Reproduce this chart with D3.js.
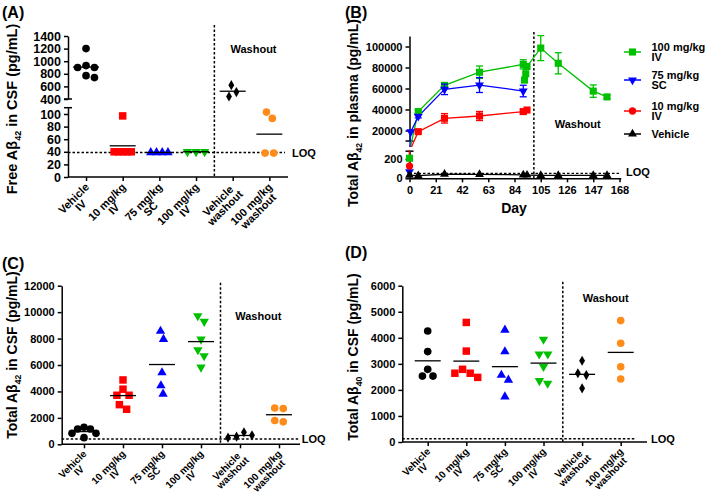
<!DOCTYPE html>
<html><head><meta charset="utf-8">
<script src="https://cdn.jsdelivr.net/npm/d3@7"></script>
<style>
body{margin:0;background:#fff}
text{font-family:"Liberation Sans",Arial,sans-serif;font-weight:bold;fill:#000}
</style></head><body>
<svg id="c" width="707" height="495" xmlns="http://www.w3.org/2000/svg"></svg>
<script>
// ================= DATA =================
const groups = ["Vehicle|IV","10 mg/kg|IV","75 mg/kg|SC","100 mg/kg|IV","Vehicle|washout","100 mg/kg|washout"];

// Panel A: Free Aβ42 in CSF (pg/mL)
const freeA42_vehicleIV   = [900, 900, 930, 1200, 740, 770];
const freeA42_10IV        = [97, 40, 40, 40, 40, 40];
const freeA42_75SC        = [39, 39, 39, 39];
const freeA42_100IV       = [40, 40, 40];
const freeA42_vehicleWash = [620, 440, 510];
const freeA42_100Wash     = [103, 93, 38, 38];
const ticksA_upper = [400, 600, 800, 1000, 1200, 1400];
const ticksA_lower = [0, 20, 40, 60, 80, 100];
const loqA = 39;

// Panel B: Total Aβ42 in plasma (pg/mL) over days
const days100 = [0, 7, 28, 56, 91, 92, 93, 94, 105, 119, 147, 158];
const plasma100 = [207, 38000, 63000, 75500, 83000, 68000, 74000, 81000, 98500, 84000, 57500, 52000];
const plasma100Err = [0, 1500, 2400, 5900, 4400, 0, 0, 0, 11900, 10100, 5900, 2000];
const days75 = [0, 1, 7, 28, 56, 91];
const plasma75 = [68, 18700, 33500, 59200, 63300, 57600];
const plasma75Err = [0, 0, 1500, 5000, 7100, 5500];
const days10 = [0, 7, 28, 56, 91, 94];
const plasma10 = [127, 18900, 31600, 33800, 38000, 39500];
const plasma10Err = [0, 1000, 4500, 4300, 2000, 0];
const daysVeh = [0, 7, 28, 56, 91, 94, 105, 119, 147, 158];
const plasmaVeh = [32, 28, 42, 40, 36, 34, 30, 30, 30, 30];
const ticksB_upper = [20000, 40000, 60000, 80000, 100000];
const ticksB_lower = [0, 200];
const ticksB_days = [0, 21, 42, 63, 84, 105, 126, 147, 168];
const legendB = ["100 mg/kg|IV", "75 mg/kg|SC", "10 mg/kg|IV", "Vehicle"];
const loqB = 50;

// Panel C: Total Aβ42 in CSF (pg/mL)
const totA42_vehicleIV   = [1290, 1160, 1160, 830, 830, 500];
const totA42_10IV        = [4870, 4170, 3710, 3710, 3000, 2650];
const totA42_75SC        = [8560, 7950, 5420, 4440, 3810];
const totA42_100IV       = [9720, 9290, 7950, 7140, 6690, 5830];
const totA42_vehicleWash = [680, 500, 580, 910];
const totA42_100Wash     = [2750, 2700, 1700, 1800];
const ticksC = [0, 2000, 4000, 6000, 8000, 10000, 12000];
const loqC = 400;

// Panel D: Total Aβ40 in CSF (pg/mL)
const totA40_vehicleIV   = [4260, 3470, 2790, 2530, 2530];
const totA40_10IV        = [4590, 3490, 2640, 2480, 2640, 2790];
const totA40_75SC        = [4300, 3470, 2570, 2380, 1740];
const totA40_100IV       = [3940, 3370, 3370, 2890, 2250, 2350];
const totA40_vehicleWash = [3120, 2640, 2570, 2060];
const totA40_100Wash     = [4660, 3790, 2890, 2420];
const ticksD = [0, 1000, 2000, 3000, 4000, 5000, 6000];
const loqD = 125;

// ================= STYLE =================
const RED = "#ff0000", BLUE = "#0000ff", GREEN = "#00c000", ORANGE = "#ff8c1a", BLACK = "#000";
const groupStyle = [
  {c: BLACK, s: "circle"}, {c: RED, s: "square"}, {c: BLUE, s: "tri"},
  {c: GREEN, s: "tridown"}, {c: BLACK, s: "diamond"}, {c: ORANGE, s: "circle"}
];
const FS = 11;
const svg = d3.select("#c");
svg.append("rect").attr("width", 707).attr("height", 495).attr("fill", "#fff");

function symPath(s, k) {
  k = k || 1;
  if (s === "circle") return d3.symbol(d3.symbolCircle, 46 * k)();
  if (s === "square") return d3.symbol(d3.symbolSquare, 56 * k)();
  if (s === "tri" || s === "tridown") return d3.symbol(d3.symbolTriangle, 38 * k)();
  if (s === "diamond") return d3.symbol(d3.symbolDiamond, 30 * k)();
}
function drawSym(g, s, color, x, y, k) {
  g.append("path").attr("d", symPath(s, k))
    .attr("transform", `translate(${x},${y})` + (s === "tridown" ? " rotate(180)" : ""))
    .attr("fill", color);
}

// beeswarm-like horizontal spread
function swarm(vals, yfn, d, maxHalf) {
  const pts = vals.map((v, i) => ({v, i, y: yfn(v), x: 0})).sort((a, b) => a.y - b.y);
  const placed = [];
  for (const p of pts) {
    const c = [0];
    for (const q of placed) {
      const dy = Math.abs(p.y - q.y);
      if (dy < d) { const dx = Math.sqrt(d * d - dy * dy); c.push(q.x - dx, q.x + dx); }
    }
    c.sort((a, b) => Math.abs(a) - Math.abs(b) || b - a);
    for (const cx of c) {
      if (placed.every(q => (q.x - cx) ** 2 + (q.y - p.y) ** 2 >= d * d - 0.01)) { p.x = cx; break; }
    }
    placed.push(p);
  }
  const comp = placed.map((_, i) => i);
  const find = i => comp[i] === i ? i : (comp[i] = find(comp[i]));
  for (let i = 0; i < placed.length; i++) for (let j = i + 1; j < placed.length; j++)
    if (Math.abs(placed[i].y - placed[j].y) < d) comp[find(i)] = find(j);
  const groupsC = d3.group(placed.map((p, i) => [find(i), p]), e => e[0]);
  for (const [, arr] of groupsC) {
    const xs = arr.map(e => e[1].x);
    const mid = (d3.min(xs) + d3.max(xs)) / 2;
    arr.forEach(e => e[1].x -= mid);
  }
  const m = d3.max(placed, p => Math.abs(p.x));
  if (m > maxHalf) placed.forEach(p => p.x *= maxHalf / m);
  return placed;
}

function styleAxis(g, fs) {
  g.selectAll("path.domain").attr("stroke", "#000").attr("stroke-width", 1.5);
  g.selectAll(".tick line").attr("stroke", "#000").attr("stroke-width", 1.5);
  g.selectAll(".tick text").attr("font-size", fs || FS).attr("font-weight", "bold")
    .attr("font-family", '"Liberation Sans",Arial,sans-serif').attr("fill", "#000");
}
function yAxis(scale, ticks, x, fs) {
  const g = svg.append("g").attr("transform", `translate(${x},0)`)
    .call(d3.axisLeft(scale).tickValues(ticks).tickSize(4).tickSizeOuter(0).tickPadding(3).tickFormat(d3.format("d")));
  styleAxis(g, fs);
  return g;
}
function hline(x1, x2, y, dashed, w) {
  svg.append("line").attr("x1", x1).attr("x2", x2).attr("y1", y).attr("y2", y)
    .attr("stroke", "#000").attr("stroke-width", w || 1.5).attr("stroke-dasharray", dashed ? "2.5,2" : null);
}
function vline(x, y1, y2, dashed, w) {
  svg.append("line").attr("x1", x).attr("x2", x).attr("y1", y1).attr("y2", y2)
    .attr("stroke", "#000").attr("stroke-width", w || 1.5).attr("stroke-dasharray", dashed ? "2.5,2" : null);
}
function label(x, y, txt, opts) {
  opts = opts || {};
  return svg.append("text").attr("x", x).attr("y", y).text(txt)
    .attr("font-size", opts.fs || FS).attr("text-anchor", opts.anchor || "start")
    .attr("font-weight", opts.weight || "bold");
}
function yTitle(x, yc, pre, sub, post, fs) {
  const t = svg.append("text").attr("transform", `translate(${x},${yc}) rotate(-90)`)
    .attr("text-anchor", "middle").attr("font-size", fs);
  t.append("tspan").text(pre);
  t.append("tspan").text(sub).attr("font-size", fs * 0.62).attr("dy", fs * 0.25);
  t.append("tspan").text(post).attr("dy", -fs * 0.25);
}
function catAxis(xs, axisX, axisEnd, axisY, cfs, lh) {
  const g = svg.append("g").attr("transform", `translate(0,${axisY})`)
    .call(d3.axisBottom(xs).tickSize(4).tickSizeOuter(0).tickFormat(""));
  g.select("path.domain").remove();
  styleAxis(g);
  hline(axisX, axisEnd, axisY);
  groups.forEach(gname => {
    const lines = gname.split("|");
    const t = svg.append("text").attr("font-size", cfs).attr("text-anchor", "middle");
    const sp = lines.map((l, i) => t.append("tspan").attr("x", 0).attr("y", cfs * 0.8 + i * lh).text(l));
    const W = d3.max(sp, s => s.node().getComputedTextLength());
    sp.forEach(s => s.attr("x", -W / 2));
    t.attr("transform", `translate(${xs(gname) - 2.5},${axisY + 4.5}) rotate(-45)`);
  });
}
function scatterPanel(xs, yfn, dataList, maxHalf) {
  dataList.forEach((vals, gi) => {
    const st = groupStyle[gi];
    const cx = xs(groups[gi]);
    const pts = swarm(vals, yfn, 8.6, maxHalf);
    pts.forEach(p => drawSym(svg, st.s, st.c, cx + p.x, p.y));
    const mean = d3.mean(vals);
    hline(cx - 13, cx + 13, yfn(mean), false, 1.3);
  });
}

// ================= PANEL A =================
{
  const ax = 68, axEnd = 288, baseY = 177;
  const yUp = d3.scaleLinear().domain([400, 1400]).range([99, 36]);
  const yLo = d3.scaleLinear().domain([0, 110]).range([177, 107.7]);
  const yA = v => v >= 300 ? yUp(v) : yLo(v);
  yAxis(yUp, ticksA_upper, ax, 12.5);
  yAxis(yLo, ticksA_lower, ax, 12.5);
  hline(ax - 4, ax + 4, 99); hline(ax - 4, ax + 4, 107.7);
  const xs = d3.scalePoint().domain(groups).range([67.7, 287.7]).padding(0.5);
  catAxis(xs, ax, axEnd, baseY, 11, 10);
  hline(ax, 285, yLo(loqA), true);
  vline((xs(groups[3]) + xs(groups[4])) / 2, 25, baseY, true);
  label(253.5, 53, "Washout", {anchor: "middle"});
  label(292, 156.5, "LOQ");
  scatterPanel(xs, yA, [freeA42_vehicleIV, freeA42_10IV, freeA42_75SC, freeA42_100IV, freeA42_vehicleWash, freeA42_100Wash], 8.6);
  yTitle(17, 109, "Free Aβ", "42", " in CSF (pg/mL)", 14.5);
  label(2, 18, "(A)", {fs: 16});
}

// ================= PANEL C =================
{
  const ax = 61.7, axEnd = 300, baseY = 444.3;
  const y = d3.scaleLinear().domain([0, 12000]).range([444.3, 285.7]);
  yAxis(y, ticksC, ax);
  const xs = d3.scalePoint().domain(groups).range([64.5, 298.5]).padding(0.5);
  catAxis(xs, ax, axEnd, baseY, 10, 9);
  hline(ax, 299, y(loqC), true);
  vline((xs(groups[3]) + xs(groups[4])) / 2, 282.7, baseY, true);
  label(258.3, 320, "Washout", {anchor: "middle"});
  label(301.7, 443.3, "LOQ");
  scatterPanel(xs, y, [totA42_vehicleIV, totA42_10IV, totA42_75SC, totA42_100IV, totA42_vehicleWash, totA42_100Wash], 12);
  yTitle(17, 355, "Total Aβ", "42", " in CSF (pg/mL)", 14);
  label(2, 269, "(C)", {fs: 16});
}

// ================= PANEL D =================
{
  const ax = 402.3, axEnd = 647, baseY = 442;
  const y = d3.scaleLinear().domain([0, 6000]).range([442, 285.7]);
  yAxis(y, ticksD, ax);
  const xs = d3.scalePoint().domain(groups).range([408.4, 640]).padding(0.5);
  catAxis(xs, ax, axEnd, baseY, 10, 9);
  hline(ax, 635, y(loqD), true);
  vline((xs(groups[3]) + xs(groups[4])) / 2, 281.7, baseY, true);
  label(605.7, 302.3, "Washout", {anchor: "middle"});
  label(651, 443.3, "LOQ");
  scatterPanel(xs, y, [totA40_vehicleIV, totA40_10IV, totA40_75SC, totA40_100IV, totA40_vehicleWash, totA40_100Wash], 12);
  yTitle(358, 357, "Total Aβ", "40", " in CSF (pg/mL)", 14);
  label(345, 258, "(D)", {fs: 16});
}

// ================= PANEL B =================
{
  const ax = 409.5;
  const yUp = d3.scaleLinear().domain([10000, 110000]).range([141, 36]);
  const yLo = d3.scaleLinear().domain([0, 280]).range([178.3, 151.2]);
  const x = d3.scaleLinear().domain([0, 169]).range([409.5, 620.75]);
  const baseY = 178.3;
  yAxis(yUp, ticksB_upper, ax);
  yAxis(yLo, ticksB_lower, ax);
  hline(ax - 4, ax + 4, 141); hline(ax - 4, ax + 4, 151.2);
  const gx = svg.append("g").attr("transform", `translate(0,${baseY})`)
    .call(d3.axisBottom(x).tickValues(ticksB_days).tickSize(4).tickSizeOuter(0).tickPadding(4));
  styleAxis(gx);
  label(514, 213, "Day", {anchor: "middle", fs: 14, weight: "normal"});

  const defs = svg.append("defs");
  defs.append("clipPath").attr("id", "clipUp").append("rect").attr("x", 400).attr("y", 28).attr("width", 230).attr("height", 119);
  defs.append("clipPath").attr("id", "clipLo").append("rect").attr("x", 400).attr("y", 150).attr("width", 230).attr("height", 32);

  const series = [
    {d: days100, v: plasma100, e: plasma100Err, c: GREEN, s: "square", ls: "square"},
    {d: days75, v: plasma75, e: plasma75Err, c: BLUE, s: "tridown", ls: "tridown"},
    {d: days10, v: plasma10, e: plasma10Err, c: RED, s: "square", ls: "circle"},
    {d: daysVeh, v: plasmaVeh, e: null, c: BLACK, s: "tri", ls: "tri"}
  ];
  hline(ax, 621, yLo(loqB), true, 1.2);
  vline(x(99.5), 32, baseY, true);
  label(577.7, 127.5, "Washout", {anchor: "middle"});
  label(626, 176, "LOQ");

  [["clipUp", yUp], ["clipLo", yLo]].forEach(([cid, ys]) => {
    const g = svg.append("g").attr("clip-path", `url(#${cid})`);
    series.forEach(S => {
      const pts = S.d.map((d, i) => [d, S.v[i]]);
      g.append("path").datum(pts)
        .attr("d", d3.line().x(p => x(p[0])).y(p => ys(p[1])))
        .attr("fill", "none").attr("stroke", S.c).attr("stroke-width", 1.3);
    });
  });
  const inUp = v => v >= 5000;
  series.forEach(S => {
    S.d.forEach((d, i) => {
      const v = S.v[i];
      const ys = inUp(v) ? yUp : yLo;
      const e = S.e ? S.e[i] : 0;
      const px = x(d), py = ys(v);
      if (e > 0) {
        const y1 = ys(v + e), y2 = ys(v - e);
        svg.append("line").attr("x1", px).attr("x2", px).attr("y1", y1).attr("y2", y2).attr("stroke", S.c).attr("stroke-width", 1.3);
        [y1, y2].forEach(yy => svg.append("line").attr("x1", px - 3.5).attr("x2", px + 3.5).attr("y1", yy).attr("y2", yy).attr("stroke", S.c).attr("stroke-width", 1.3));
      }
      const sym = (d === 0 && S.ls === "circle") ? "circle" : S.s;
      drawSym(svg, sym, S.c, px, py, 0.9);
    });
  });
  const legY = [52, 80, 111, 134];
  legendB.forEach((lab, i) => {
    const S = series[i];
    const yy = legY[i];
    svg.append("line").attr("x1", 624).attr("x2", 641).attr("y1", yy).attr("y2", yy).attr("stroke", S.c).attr("stroke-width", 1.5);
    drawSym(svg, S.ls, S.c, 632.5, yy, 0.9);
    const lines = lab.split("|");
    const off = lines.length > 1 ? -1.5 : 4;
    lines.forEach((l, k) => label(651.5, yy + off + k * 10.5, l));
  });
  yTitle(358, 113, "Total Aβ", "42", " in plasma (pg/mL)", 14);
  label(345, 18, "(B)", {fs: 16});
}
</script></body></html>
